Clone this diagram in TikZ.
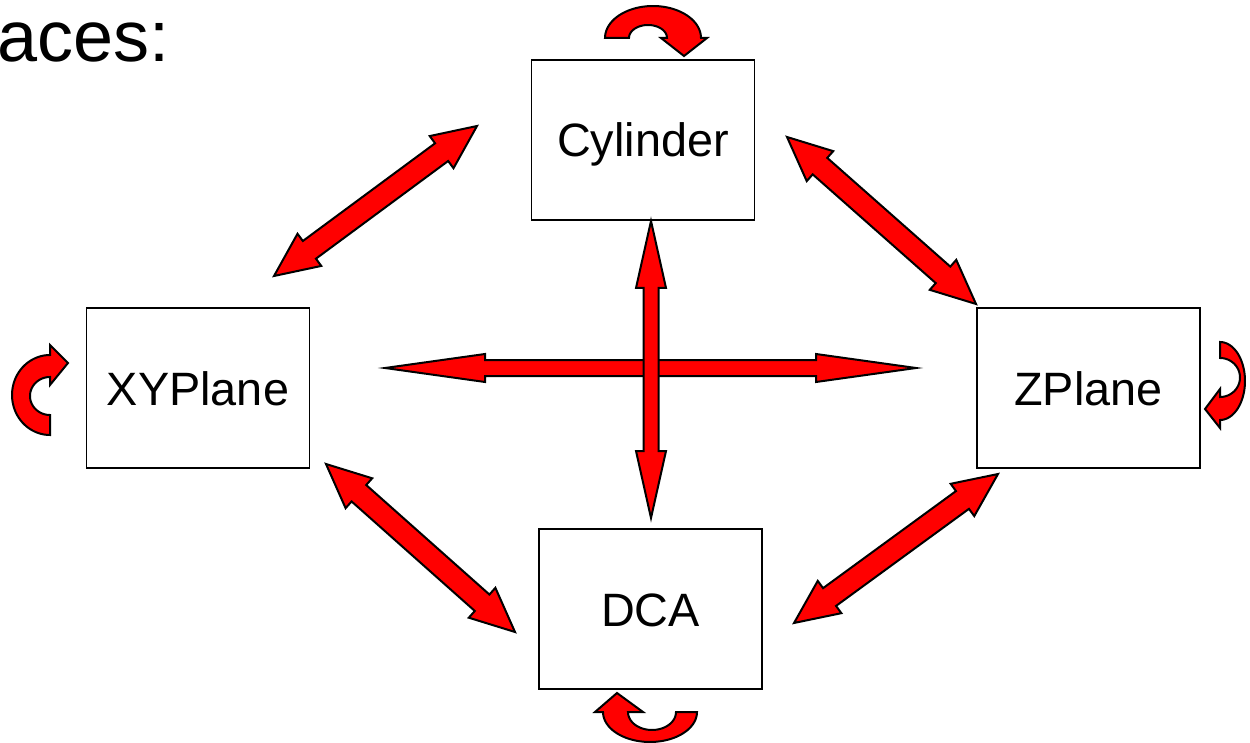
\documentclass[tikz,border=0pt]{standalone}
\usepackage{fontspec}
\setmainfont{Liberation Sans}
\usetikzlibrary{calc}
\tikzset{
 box/.style={draw=black, line width=1.5pt, minimum width=223pt, minimum height=160pt, inner sep=0pt, text height=34pt, text depth=0pt, font=\fontsize{46.8}{56}\selectfont},
 arr/.style={draw=black, fill=red, line width=2pt, line join=miter},
}
\newcommand\dblarr[5]{%
 \path[arr] let \p1=(#1), \p2=(#2), \n1={atan2(\y2-\y1,\x2-\x1)}, \n2={veclen(\x2-\x1,\y2-\y1)} in
 [shift={(\p1)}, rotate=\n1] (0pt,0pt) -- (#3pt,#4pt) -- (#3pt,#5pt) -- (\n2-#3pt,#5pt) -- (\n2-#3pt,#4pt) -- (\n2,0pt) -- (\n2-#3pt,-#4pt) -- (\n2-#3pt,-#5pt) -- (#3pt,-#5pt) -- (#3pt,-#4pt) -- cycle;}
\begin{document}
\begin{tikzpicture}[x=1pt,y=-1pt]
\useasboundingbox (0,0) rectangle (1250,743);
\node[anchor=base east, inner sep=0pt, font=\fontsize{72}{80}\selectfont] (title) at (170,62) {aces:};
\node[box] (cyl) at (643,140) {Cylinder};
\node[box] (xy) at (198,388) {XYPlane};
\node[box] (zp) at (1088.5,388) {ZPlane};
\node[box] (dca) at (650.5,609) {DCA};
% arrow end points
\coordinate (h1) at (385,368);
\coordinate (h2) at (916,368);
\coordinate (v1) at (651,221);
\coordinate (v2) at (651,518);
\coordinate (a1) at (477,126);
\coordinate (a2) at (274,276);
\coordinate (b1) at (787,137);
\coordinate (b2) at (976,304);
\coordinate (c1) at (326,464);
\coordinate (c2) at (515,632);
\coordinate (d1) at (998,474);
\coordinate (d2) at (794,623);
\dblarr{h1}{h2}{100}{14}{8}
\dblarr{v1}{v2}{67}{15}{7.5}
\dblarr{a1}{a2}{44}{20}{11}
\dblarr{b1}{b2}{44}{20}{11}
\dblarr{c1}{c2}{44}{20}{11}
\dblarr{d1}{d2}{44}{20}{11}
% self loops
\draw[arr] plot[domain=180:360,samples=40] ({653+48*cos(\x)},{38+32*sin(\x)}) -- (707,38) -- (684,56) -- (661,38) -- plot[domain=360:180,samples=40] ({648+19*cos(\x)},{38+13*sin(\x)}) -- cycle;
\draw[arr] plot[domain=0:180,samples=40] ({650+47*cos(\x)},{712+30*sin(\x)}) -- (595,712) -- (617,693) -- (643,712) -- plot[domain=180:0,samples=40] ({652+24*cos(\x)},{712+18*sin(\x)}) -- cycle;
\draw[arr] plot[domain=270:90,samples=40] ({50+38*cos(\x)},{395+40*sin(\x)}) -- plot[domain=90:270,samples=40] ({50+20*cos(\x)},{396+19*sin(\x)}) -- (50,385) -- (68,363) -- (50,345) -- cycle;
\draw[arr] plot[domain=-90:90,samples=40] ({1220+25*cos(\x)},{381+39*sin(\x)}) -- (1220,428) -- (1205,409) -- (1220,389) -- plot[domain=90:-90,samples=40] ({1220+20*cos(\x)},{377.5+19.5*sin(\x)}) -- cycle;
\end{tikzpicture}
\end{document}
